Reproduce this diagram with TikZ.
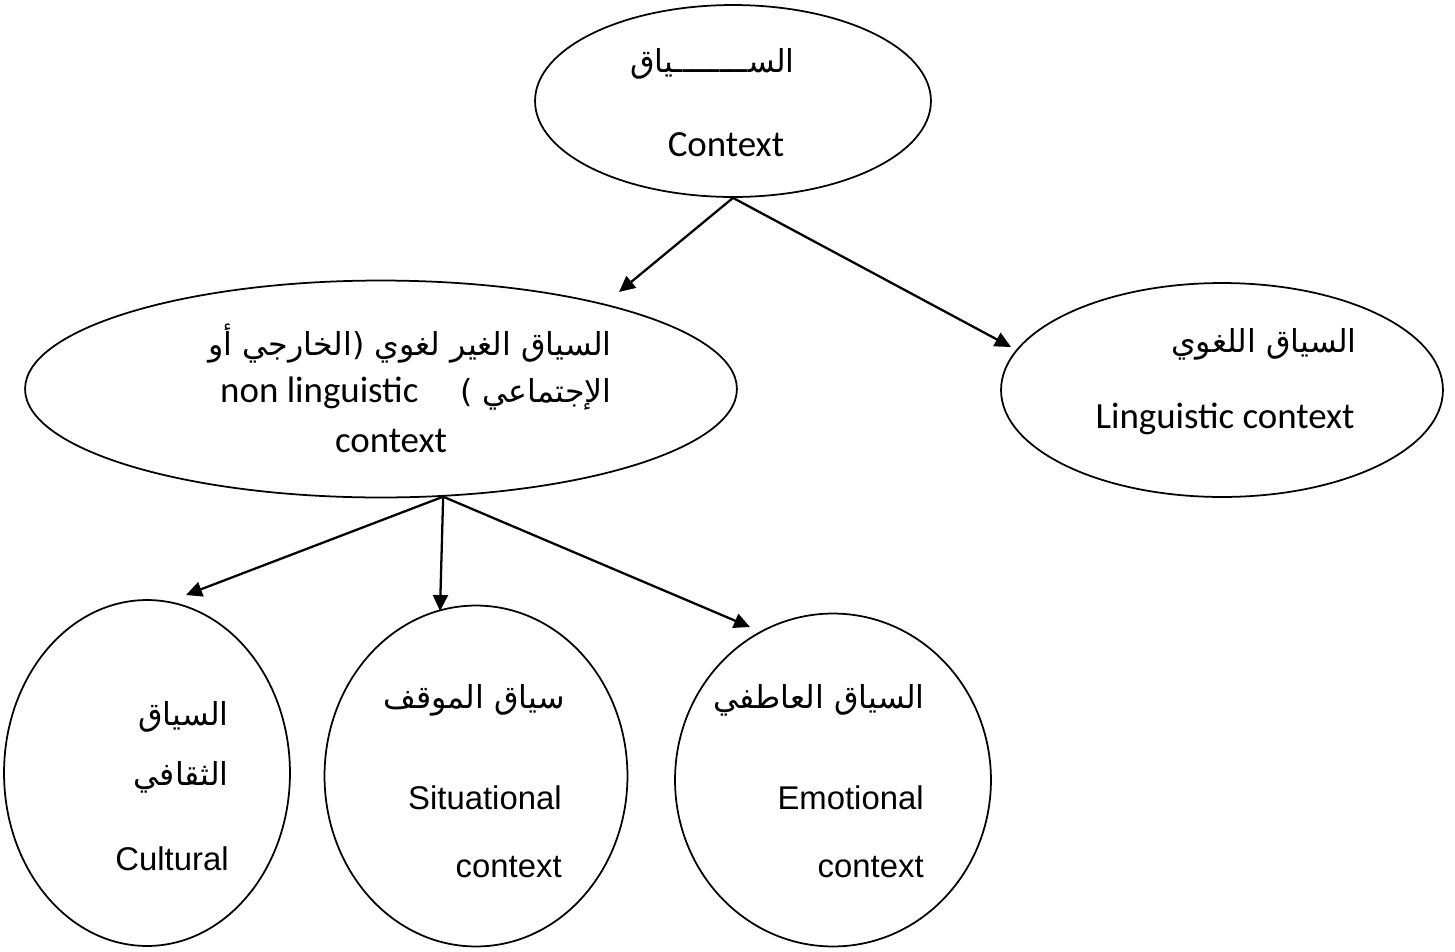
\documentclass[tikz,border=0pt]{standalone}
\usepackage{fontspec}
\setmainfont{Liberation Sans}
\newfontfamily\calibri{Carlito}
\newfontfamily\arabicfont[Script=Arabic]{DejaVu Sans}
\TeXXeTstate=1
\usetikzlibrary{arrows.meta,positioning,shapes.geometric}

\begin{document}
\begin{tikzpicture}[
    x=0.02cm, y=-0.02cm,
    oval/.style={draw, ellipse, line width=1pt, inner sep=0pt},
    ar/.style={-{Triangle[length=3.2mm, width=3mm]}, line width=1.3pt},
    arb/.style={font=\arabicfont\fontsize{18}{22}\selectfont, anchor=base east, inner sep=0pt},
    cal/.style={font=\calibri\fontsize{21}{25}\selectfont, anchor=base east, inner sep=0pt},
    ari/.style={font=\fontsize{18.7}{22}\selectfont, anchor=base east, inner sep=0pt}
  ]
    \useasboundingbox (0,0) rectangle (1455,951);

    % ellipses
    \node[oval, minimum width=7.92cm, minimum height=3.84cm] (ctx) at (733,101) {};
    \node[oval, minimum width=14.24cm, minimum height=4.34cm] (nonling) at (381,389) {};
    \node[oval, minimum width=8.84cm, minimum height=4.28cm] (ling) at (1222,390) {};
    \node[oval, minimum width=5.72cm, minimum height=6.92cm] (cult) at (147,773) {};
    \node[oval, minimum width=6.06cm, minimum height=6.82cm] (sit) at (476,776) {};
    \node[oval, minimum width=6.32cm, minimum height=6.66cm] (emo) at (833,780) {};

    % texts
    \node[arb] (ctxA) at (795,72) {\beginR الســــــــياق\endR};
    \node[cal, anchor=base] (ctxB) at (726,156) {Context};

    \node[arb] (nlA) at (612,355) {\beginR السياق الغير لغوي (الخارجي أو\endR};
    \node[arb] (nlB) at (612,402) {\beginR الإجتماعي ) \quad{\calibri\fontsize{21}{25}\selectfont\beginL non linguistic\endL}\endR};
    \node[cal, anchor=base] (nlC) at (391,452) {context};

    \node[arb] (lingA) at (1357,352) {\beginR السياق اللغوي\endR};
    \node[cal] (lingB) at (1355,428) {Linguistic context};

    \node[arb] (cultA) at (229,725) {\beginR السياق\endR};
    \node[arb] (cultB) at (229,785) {\beginR الثقافي\endR};
    \node[ari] (cultC) at (229,870) {Cultural};

    \node[arb] (sitA) at (565,708) {\beginR سياق الموقف\endR};
    \node[ari] (sitB) at (562,809) {Situational};
    \node[ari] (sitC) at (562,877) {context};

    \node[arb] (emoA) at (925,708) {\beginR السياق العاطفي\endR};
    \node[ari] (emoB) at (924,809) {Emotional};
    \node[ari] (emoC) at (924,877) {context};

    % arrow ends
    \coordinate (tNL) at (619,292);
    \coordinate (tL) at (1011,347);
    \coordinate (tC) at (186,595);
    \coordinate (tS) at (440,611);
    \coordinate (tE) at (750,627);

    \draw[ar] (ctx.south) -- (tNL);
    \draw[ar] (ctx.south) -- (tL);
    \draw[ar] (nonling.-60) -- (tC);
    \draw[ar] (nonling.-60) -- (tS);
    \draw[ar] (nonling.-60) -- (tE);
\end{tikzpicture}
\end{document}
